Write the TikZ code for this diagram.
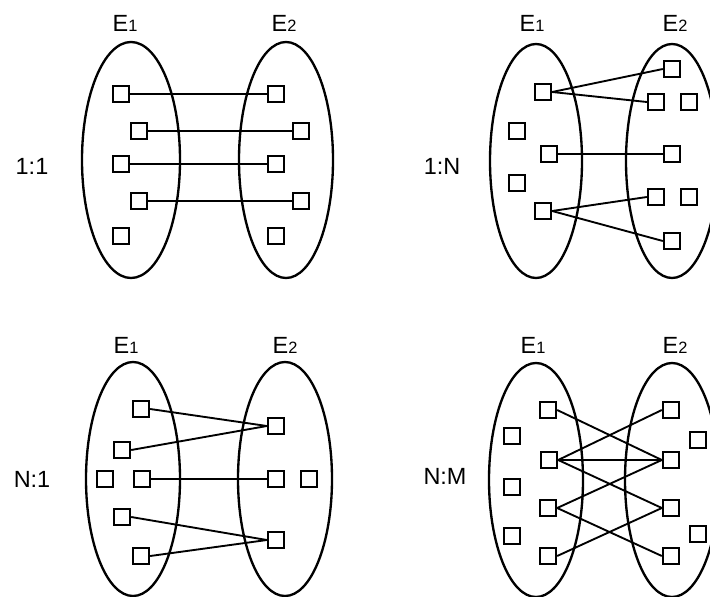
\documentclass[tikz,border=0pt]{standalone}
\usepackage{fontspec}
\setmainfont{Liberation Sans}
\usetikzlibrary{calc}

\tikzset{
        box/.style={draw, black, line width=2pt, minimum size=0.48cm, inner sep=0pt},
        set/.style={black, line width=2pt},
        link/.style={black, line width=1.6pt},
        lbl/.style={font=\fontsize{20}{22}\selectfont, inner sep=0pt}
}
\newcommand{\ent}[1]{E{\fontsize{14}{16}\selectfont #1}}

\begin{document}
\begin{tikzpicture}[x=0.03cm, y=-0.03cm]
        \useasboundingbox (0,0) rectangle (710,597);

        % 1:1
        \draw[set] (131,160) ellipse [x radius=49, y radius=118];
        \draw[set] (286,160) ellipse [x radius=47, y radius=118];
        \node[lbl, anchor=base] (oE1) at (125,32) {\ent{1}};
        \node[lbl, anchor=base] (oE2) at (284,32) {\ent{2}};
        \node[lbl] (oname) at (32,166) {1:1};
        \foreach \n/\x/\y in {l1/121/94, l2/139/131, l3/121/164, l4/139/201, l5/121/236,
                r1/276/94, r2/301/131, r3/276/164, r4/301/201, r5/276/236} {
                \node[box] (o\n) at (\x,\y) {};
            }
        \foreach \a/\b in {l1/r1, l2/r2, l3/r3, l4/r4} {
                \draw[link] (o\a.east) -- (o\b.west);
            }

        % 1:N
        \draw[set] (536,161) ellipse [x radius=46, y radius=117];
        \draw[set] (672,161) ellipse [x radius=46, y radius=117];
        \node[lbl, anchor=base] (nE1) at (532,32) {\ent{1}};
        \node[lbl, anchor=base] (nE2) at (675,32) {\ent{2}};
        \node[lbl] (nname) at (442,166) {1:N};
        \foreach \n/\x/\y in {l1/543/92, l2/517/131, l3/549/154, l4/517/183, l5/543/211,
                r1/672/69, r2/656/102, r3/689/102, r4/672/154, r5/656/197, r6/689/197, r7/672/241} {
                \node[box] (n\n) at (\x,\y) {};
            }
        \foreach \a/\b in {l1/r1, l1/r2, l3/r4, l5/r5, l5/r7} {
                \draw[link] (n\a.east) -- (n\b.west);
            }

        % N:1
        \draw[set] (133,479) ellipse [x radius=47, y radius=117];
        \draw[set] (285,479) ellipse [x radius=47, y radius=117];
        \node[lbl, anchor=base] (mE1) at (126,353) {\ent{1}};
        \node[lbl, anchor=base] (mE2) at (285,353) {\ent{2}};
        \node[lbl] (mname) at (32,479) {N:1};
        \foreach \n/\x/\y in {l1/141/409, l2/122/450, l3/105/479, l4/142/479, l5/122/517, l6/141/556,
                r1/276/426, r2/276/479, r3/309/479, r4/276/540} {
                \node[box] (m\n) at (\x,\y) {};
            }
        \foreach \a/\b in {l1/r1, l2/r1, l4/r2, l5/r4, l6/r4} {
                \draw[link] (m\a.east) -- (m\b.west);
            }

        % N:M
        \draw[set] (536,480) ellipse [x radius=47, y radius=117];
        \draw[set] (672,480) ellipse [x radius=47, y radius=117];
        \node[lbl, anchor=base] (kE1) at (533,353) {\ent{1}};
        \node[lbl, anchor=base] (kE2) at (675,353) {\ent{2}};
        \node[lbl] (kname) at (445,476) {N:M};
        \foreach \n/\x/\y in {l1/548/410, l2/512/436, l3/549/460, l4/512/487, l5/548/508, l6/512/536, l7/548/556,
                r1/671/410, r2/698/440, r3/671/460, r4/671/508, r5/698/534, r6/671/556} {
                \node[box] (k\n) at (\x,\y) {};
            }
        \foreach \a/\b in {l1/r3, l3/r1, l3/r3, l3/r4, l5/r3, l5/r6, l7/r4} {
                \draw[link] (k\a.east) -- (k\b.west);
            }
    \end{tikzpicture}
\end{document}
